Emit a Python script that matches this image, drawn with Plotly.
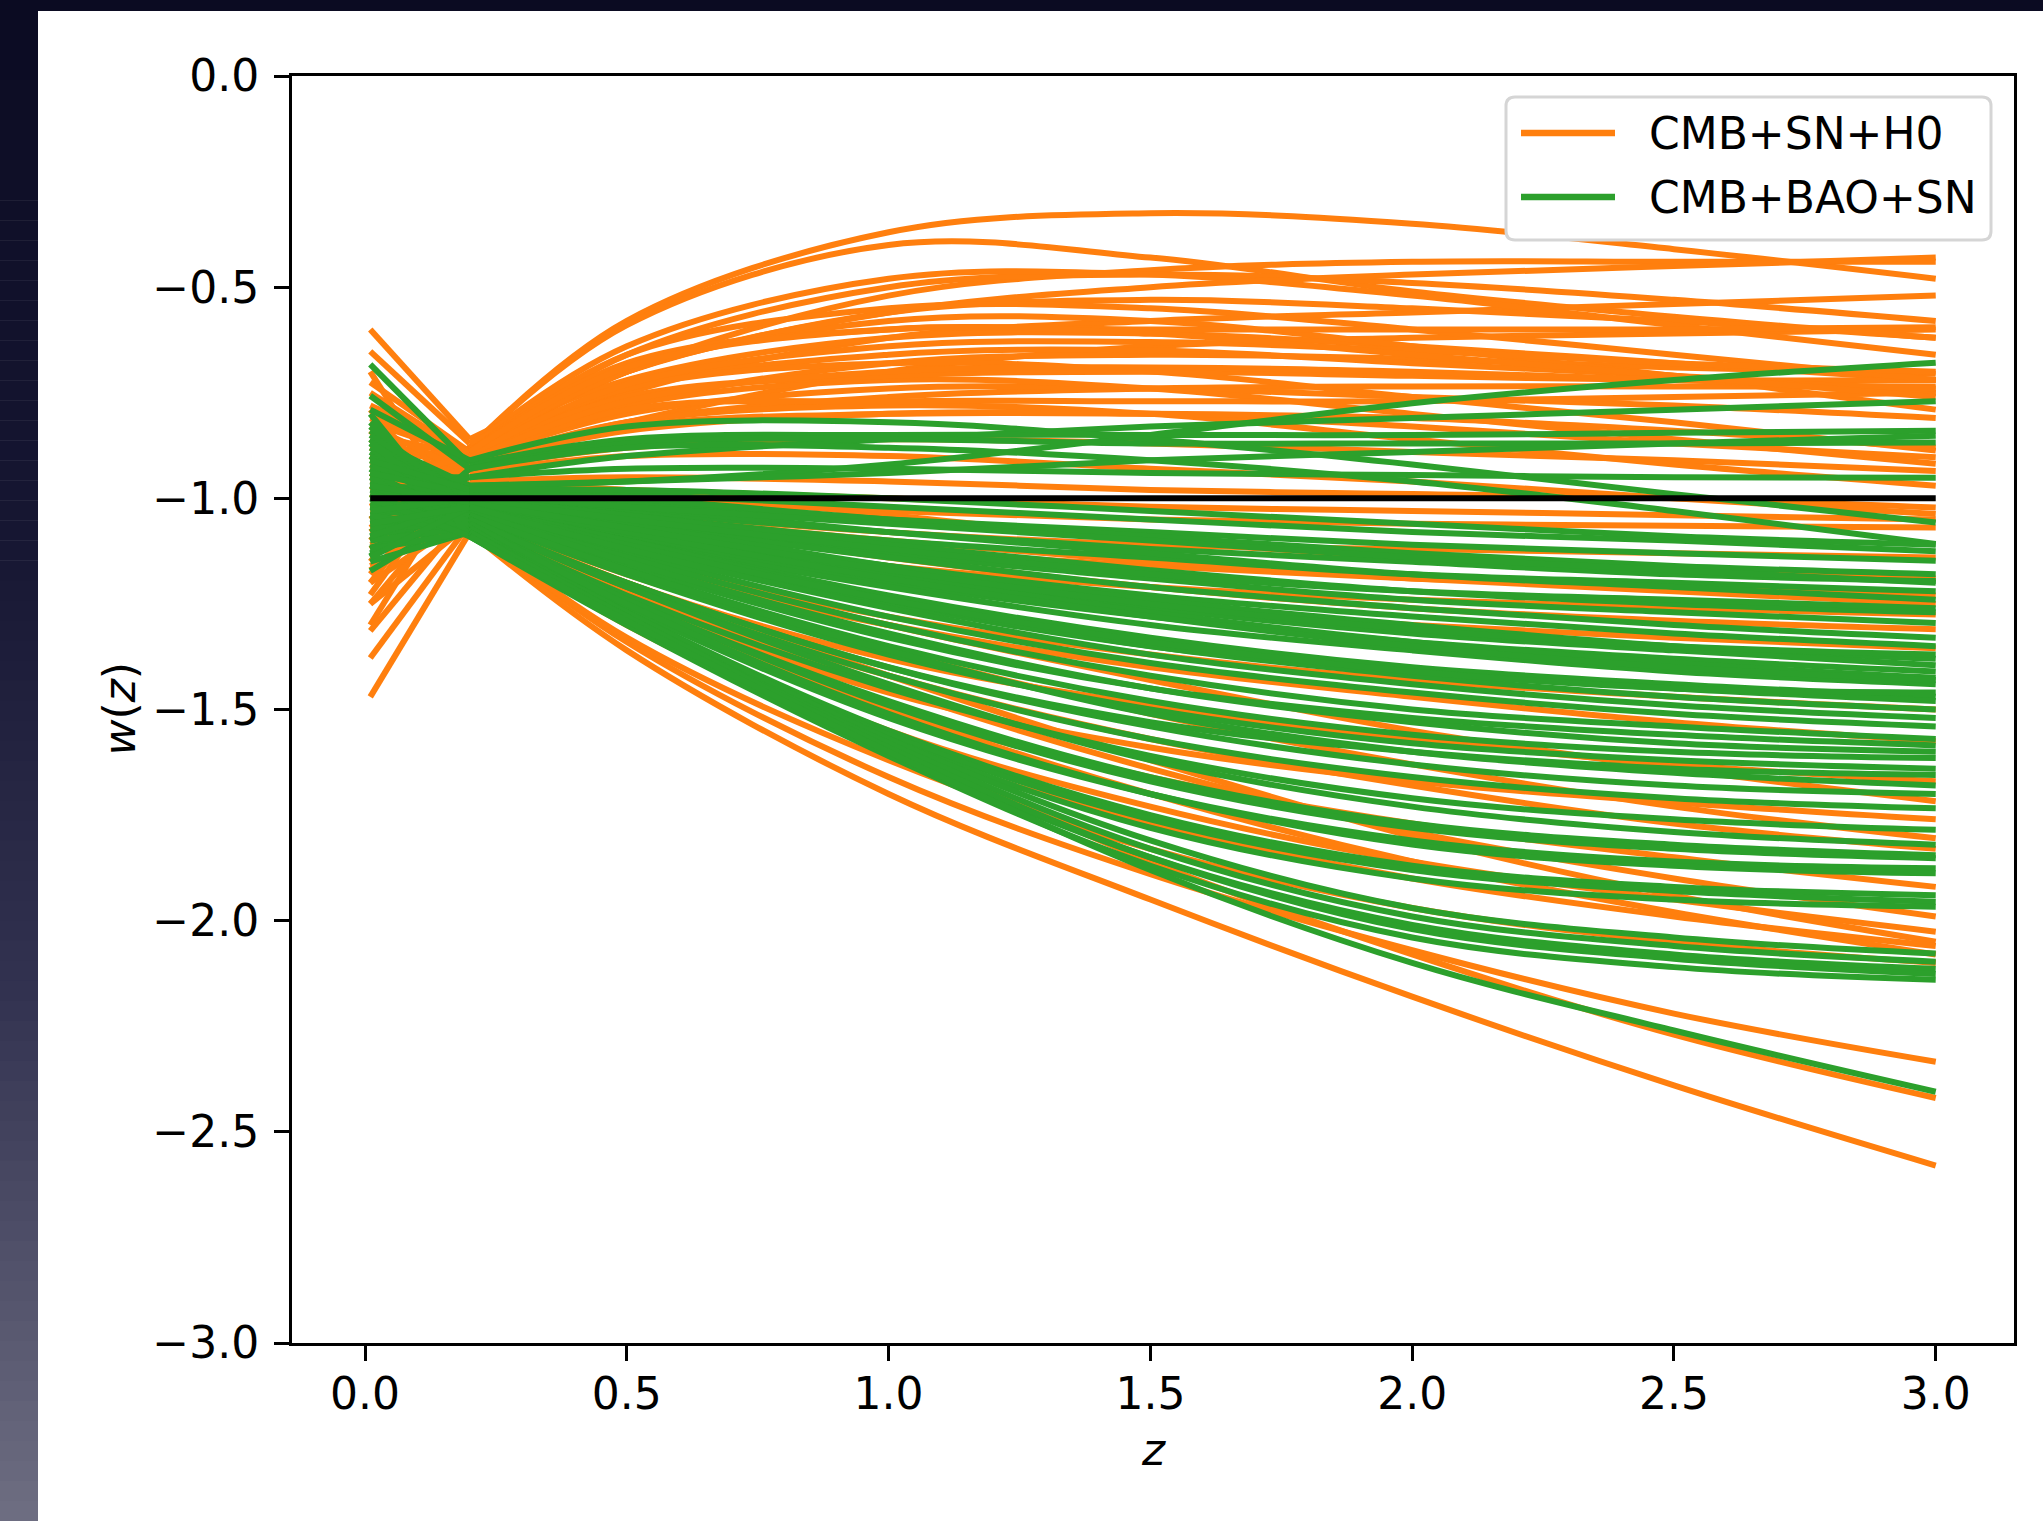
import plotly.graph_objects as go

W, H = 2043, 1521

# Redshift nodes: each curve starts at Z_START, runs straight to the first
# node and is then smoothly reconstructed through the remaining nodes.
Z_START = 0.01
Z_NODES = [0.2, 0.5, 1.0, 1.5, 2.0, 2.5, 3.0]

# CMB+SN+H0 posterior samples of w(z)
ORANGE_W0 = [
    -0.98, -1.05, -0.75, -1.20, -0.80, -0.88, -0.60, -1.10, -0.93, -0.652,
    -1.00, -0.85, -1.228, -0.95, -0.725, -1.07, -0.82, -0.97, -1.30, -0.90,
    -1.02, -0.78, -1.15, -0.87,
    -1.12, -0.83, -1.25, -0.92, -1.05, -0.88, -1.17, -0.95, -1.08, -0.86,
    -1.00, -0.90, -1.314, -0.94, -1.20, -0.84, -1.378, -1.03, -0.79, -1.11,
    -0.70, -1.16, -0.99, -1.25, -1.47, -1.06,
    -0.96, -1.08, -0.81, -1.18, -0.91, -1.02,
]
ORANGE_W = [
    [-0.88, -0.58, -0.37, -0.325, -0.35, -0.41, -0.48],
    [-0.88, -0.59, -0.40, -0.43, -0.51, -0.57, -0.62],
    [-0.90, -0.70, -0.52, -0.46, -0.44, -0.44, -0.44],
    [-0.90, -0.75, -0.62, -0.58, -0.56, -0.54, -0.52],
    [-0.89, -0.66, -0.50, -0.47, -0.49, -0.53, -0.58],
    [-0.92, -0.82, -0.70, -0.64, -0.62, -0.61, -0.60],
    [-0.86, -0.70, -0.56, -0.53, -0.55, -0.58, -0.62],
    [-0.88, -0.64, -0.48, -0.47, -0.52, -0.59, -0.66],
    [-0.91, -0.78, -0.68, -0.66, -0.67, -0.69, -0.705],
    [-0.87, -0.72, -0.62, -0.61, -0.64, -0.68, -0.72],
    [-0.92, -0.82, -0.76, -0.74, -0.735, -0.735, -0.735],
    [-0.90, -0.74, -0.66, -0.65, -0.68, -0.71, -0.75],
    [-0.90, -0.70, -0.58, -0.58, -0.64, -0.71, -0.79],
    [-0.91, -0.80, -0.74, -0.74, -0.76, -0.78, -0.81],
    [-0.89, -0.74, -0.68, -0.70, -0.76, -0.82, -0.887],
    [-0.92, -0.84, -0.80, -0.80, -0.83, -0.87, -0.903],
    [-0.90, -0.78, -0.72, -0.74, -0.80, -0.86, -0.918],
    [-0.93, -0.88, -0.86, -0.87, -0.89, -0.91, -0.935],
    [-0.92, -0.82, -0.78, -0.80, -0.86, -0.92, -0.97],
    [-0.89, -0.70, -0.56, -0.50, -0.47, -0.45, -0.43],
    [-0.90, -0.76, -0.71, -0.70, -0.71, -0.72, -0.72],
    [-0.89, -0.66, -0.55, -0.55, -0.60, -0.66, -0.72],
    [-0.89, -0.68, -0.60, -0.60, -0.60, -0.60, -0.595],
    [-0.91, -0.79, -0.77, -0.77, -0.77, -0.76, -0.75],
    [-0.96, -0.95, -0.96, -0.98, -0.99, -1.00, -1.022],
    [-0.94, -0.90, -0.90, -0.93, -0.96, -1.00, -1.037],
    [-0.97, -1.00, -1.03, -1.05, -1.06, -1.065, -1.069],
    [-0.98, -1.03, -1.08, -1.11, -1.12, -1.13, -1.14],
    [-0.97, -0.98, -1.04, -1.10, -1.14, -1.17, -1.19],
    [-0.99, -1.06, -1.12, -1.16, -1.19, -1.21, -1.23],
    [-1.00, -1.08, -1.16, -1.21, -1.24, -1.26, -1.275],
    [-0.98, -1.05, -1.14, -1.21, -1.26, -1.29, -1.31],
    [-1.00, -1.10, -1.20, -1.26, -1.30, -1.33, -1.355],
    [-1.02, -1.14, -1.28, -1.37, -1.43, -1.47, -1.50],
    [-1.03, -1.16, -1.30, -1.40, -1.47, -1.53, -1.575],
    [-1.04, -1.20, -1.38, -1.49, -1.57, -1.63, -1.67],
    [-1.03, -1.15, -1.30, -1.43, -1.55, -1.64, -1.717],
    [-1.05, -1.24, -1.46, -1.59, -1.67, -1.72, -1.76],
    [-1.04, -1.18, -1.36, -1.51, -1.63, -1.73, -1.805],
    [-1.05, -1.22, -1.42, -1.57, -1.68, -1.77, -1.83],
    [-1.06, -1.26, -1.50, -1.66, -1.77, -1.85, -1.92],
    [-1.05, -1.22, -1.45, -1.64, -1.79, -1.90, -1.99],
    [-1.06, -1.28, -1.55, -1.73, -1.86, -1.95, -2.026],
    [-1.05, -1.20, -1.42, -1.62, -1.80, -1.94, -2.05],
    [-1.07, -1.30, -1.58, -1.77, -1.90, -1.99, -2.06],
    [-1.06, -1.25, -1.50, -1.70, -1.86, -1.98, -2.08],
    [-1.07, -1.34, -1.66, -1.89, -2.07, -2.22, -2.334],
    [-1.06, -1.28, -1.58, -1.86, -2.08, -2.27, -2.42],
    [-1.08, -1.36, -1.70, -1.95, -2.18, -2.39, -2.58],
    [-1.07, -1.33, -1.62, -1.83, -1.97, -2.05, -2.10],
    [-0.90, -0.73, -0.64, -0.63, -0.65, -0.68, -0.70],
    [-0.91, -0.77, -0.70, -0.69, -0.70, -0.72, -0.74],
    [-0.89, -0.69, -0.60, -0.61, -0.66, -0.71, -0.76],
    [-0.92, -0.83, -0.80, -0.80, -0.81, -0.84, -0.88],
    [-0.97, -0.98, -1.00, -1.02, -1.03, -1.04, -1.05],
    [-0.99, -1.04, -1.10, -1.15, -1.19, -1.22, -1.25],
]

# CMB+BAO+SN posterior samples of w(z)
GREEN_W0 = [
    -0.86, -0.95, -0.683, -1.05, -0.757, -1.00, -0.79, -1.137,
    -0.90, -1.08, -0.97, -0.87, -1.02, -1.10, -0.93, -0.84, -1.04, -0.91,
    -1.12, -0.99, -0.88, -1.06, -0.96, -1.172, -0.92, -1.01,
    -0.89, -1.09, -0.98, -0.83, -1.13, -0.94, -1.05, -0.87, -1.117, -0.97,
    -0.82, -1.07, -0.95, -1.10, -0.90, -1.02, -0.86, -1.15, -0.99, -1.12,
    -0.93, -1.04, -0.80, -1.00,
    -0.94, -1.03, -0.85, -1.09, -0.97, -1.14, -0.91, -1.06,
]
GREEN_W = [
    [-0.97, -0.96, -0.92, -0.85, -0.775, -0.72, -0.679],
    [-0.95, -0.90, -0.86, -0.83, -0.81, -0.79, -0.77],
    [-0.92, -0.86, -0.85, -0.85, -0.85, -0.845, -0.84],
    [-0.97, -0.96, -0.94, -0.91, -0.89, -0.87, -0.852],
    [-0.93, -0.87, -0.86, -0.87, -0.87, -0.87, -0.868],
    [-0.95, -0.93, -0.93, -0.94, -0.945, -0.95, -0.951],
    [-0.91, -0.83, -0.82, -0.86, -0.92, -0.99, -1.057],
    [-0.93, -0.88, -0.88, -0.91, -0.96, -1.03, -1.108],
    [-0.98, -0.99, -1.02, -1.05, -1.08, -1.10, -1.125],
    [-0.99, -1.01, -1.05, -1.08, -1.11, -1.13, -1.148],
    [-0.98, -1.00, -1.05, -1.09, -1.13, -1.16, -1.18],
    [-0.99, -1.03, -1.08, -1.12, -1.15, -1.18, -1.196],
    [-1.00, -1.04, -1.10, -1.14, -1.18, -1.20, -1.22],
    [-0.99, -1.02, -1.08, -1.13, -1.18, -1.21, -1.24],
    [-1.00, -1.05, -1.13, -1.19, -1.24, -1.27, -1.295],
    [-1.00, -1.06, -1.14, -1.21, -1.26, -1.30, -1.33],
    [-1.01, -1.07, -1.16, -1.23, -1.28, -1.32, -1.35],
    [-1.00, -1.06, -1.16, -1.24, -1.30, -1.35, -1.38],
    [-1.01, -1.08, -1.18, -1.26, -1.32, -1.36, -1.395],
    [-1.02, -1.09, -1.20, -1.28, -1.34, -1.38, -1.41],
    [-1.01, -1.07, -1.18, -1.27, -1.34, -1.39, -1.425],
    [-1.02, -1.10, -1.21, -1.30, -1.36, -1.41, -1.44],
    [-1.02, -1.10, -1.23, -1.33, -1.40, -1.44, -1.47],
    [-1.03, -1.12, -1.25, -1.35, -1.41, -1.45, -1.48],
    [-1.02, -1.10, -1.24, -1.35, -1.42, -1.47, -1.50],
    [-1.03, -1.13, -1.28, -1.39, -1.46, -1.51, -1.54],
    [-1.03, -1.14, -1.30, -1.42, -1.50, -1.54, -1.57],
    [-1.04, -1.16, -1.33, -1.45, -1.52, -1.56, -1.585],
    [-1.03, -1.15, -1.32, -1.45, -1.53, -1.58, -1.60],
    [-1.04, -1.17, -1.35, -1.48, -1.56, -1.60, -1.615],
    [-1.04, -1.18, -1.37, -1.50, -1.58, -1.62, -1.64],
    [-1.05, -1.20, -1.40, -1.53, -1.60, -1.64, -1.655],
    [-1.04, -1.17, -1.36, -1.51, -1.60, -1.65, -1.68],
    [-1.05, -1.20, -1.40, -1.54, -1.63, -1.68, -1.70],
    [-1.05, -1.21, -1.42, -1.57, -1.66, -1.71, -1.734],
    [-1.06, -1.23, -1.45, -1.61, -1.71, -1.76, -1.785],
    [-1.05, -1.21, -1.44, -1.62, -1.73, -1.79, -1.82],
    [-1.06, -1.24, -1.48, -1.66, -1.77, -1.82, -1.845],
    [-1.06, -1.24, -1.49, -1.67, -1.78, -1.83, -1.852],
    [-1.07, -1.26, -1.52, -1.70, -1.81, -1.86, -1.876],
    [-1.06, -1.25, -1.51, -1.70, -1.82, -1.87, -1.888],
    [-1.07, -1.27, -1.55, -1.75, -1.87, -1.92, -1.94],
    [-1.07, -1.28, -1.56, -1.76, -1.88, -1.93, -1.955],
    [-1.08, -1.29, -1.57, -1.78, -1.90, -1.95, -1.967],
    [-1.08, -1.27, -1.57, -1.81, -1.97, -2.04, -2.078],
    [-1.08, -1.28, -1.58, -1.83, -1.99, -2.06, -2.097],
    [-1.09, -1.29, -1.60, -1.85, -2.01, -2.08, -2.114],
    [-1.08, -1.28, -1.59, -1.85, -2.02, -2.09, -2.126],
    [-1.09, -1.30, -1.61, -1.87, -2.04, -2.11, -2.14],
    [-1.09, -1.29, -1.60, -1.88, -2.10, -2.26, -2.405],
    [-0.99, -1.02, -1.06, -1.10, -1.14, -1.17, -1.20],
    [-1.00, -1.04, -1.11, -1.17, -1.22, -1.25, -1.27],
    [-1.00, -1.05, -1.12, -1.18, -1.22, -1.24, -1.26],
    [-1.01, -1.08, -1.19, -1.28, -1.35, -1.40, -1.43],
    [-1.01, -1.07, -1.17, -1.25, -1.31, -1.35, -1.37],
    [-1.02, -1.11, -1.24, -1.34, -1.41, -1.45, -1.46],
    [-0.98, -0.98, -1.00, -1.03, -1.06, -1.09, -1.11],
    [-1.02, -1.12, -1.26, -1.37, -1.44, -1.49, -1.52],
]

# Cosmological constant reference
LCDM_Z = [0.01, 3.0]
LCDM_W = [-1.0, -1.0]

X_TICKS = [0.0, 0.5, 1.0, 1.5, 2.0, 2.5, 3.0]
X_TICK_TEXT = ["0.0", "0.5", "1.0", "1.5", "2.0", "2.5", "3.0"]
Y_TICKS = [0.0, -0.5, -1.0, -1.5, -2.0, -2.5, -3.0]
Y_TICK_TEXT = ["0.0", "\u22120.5", "\u22121.0", "\u22121.5", "\u22122.0", "\u22122.5", "\u22123.0"]

SERIES = [
    ("CMB+SN+H0", "#ff7f0e", ORANGE_W0, ORANGE_W),
    ("CMB+BAO+SN", "#2ca02c", GREEN_W0, GREEN_W),
]

FONT = "DejaVu Sans"
FS = 44
LW = 6

# plot area in pixels
AX_L, AX_R, AX_T, AX_B = 292, 2014, 76, 1343


def px(x):
    return x / W


def py(y):
    return 1 - y / H


fig = go.Figure()

for name, color, w0, w in SERIES:
    xs, ys = [], []
    for a, row in zip(w0, w):
        xs += [Z_START, Z_NODES[0], None]
        ys += [a, row[0], None]
    fig.add_trace(go.Scatter(
        x=xs, y=ys, mode="lines", name=name,
        line=dict(color=color, width=LW),
        showlegend=False, hoverinfo="skip",
    ))
    for row in w:
        fig.add_trace(go.Scatter(
            x=Z_NODES, y=row, mode="lines", name=name,
            line=dict(color=color, width=LW, shape="spline", smoothing=1.0),
            showlegend=False, hoverinfo="skip",
        ))

fig.add_trace(go.Scatter(
    x=LCDM_Z, y=LCDM_W, mode="lines", line=dict(color="black", width=LW),
    showlegend=False, hoverinfo="skip",
))

shapes = []

# slide background: dark strip on top, vertical gradient strip on the left
shapes.append(dict(type="rect", xref="paper", yref="paper", x0=0, x1=1,
                   y0=py(11), y1=1, fillcolor="#0b0b22", line_width=0, layer="below"))
stops = [(0.0, (11, 11, 34)), (0.35, (22, 22, 50)), (0.65, (50, 50, 80)), (1.0, (110, 110, 130))]
n_bands = 76
for i in range(n_bands):
    t = (i + 0.5) / n_bands
    for (t0, c0), (t1, c1) in zip(stops[:-1], stops[1:]):
        if t0 <= t <= t1:
            f = (t - t0) / (t1 - t0)
            c = tuple(int(round(c0[k] + f * (c1[k] - c0[k]))) for k in range(3))
            break
    y0 = H * i / n_bands
    y1 = min(H, H * (i + 1) / n_bands + 0.5)
    shapes.append(dict(type="rect", xref="paper", yref="paper", x0=0, x1=px(38),
                       y0=py(y1), y1=py(y0), fillcolor="rgb(%d,%d,%d)" % c,
                       line_width=0, layer="below"))

# legend frame with rounded corners
lx0, lx1, ly0, ly1, r = 1506, 1991, 97, 240, 9
path = (
    f"M {px(lx0 + r)},{py(ly0)} L {px(lx1 - r)},{py(ly0)} "
    f"Q {px(lx1)},{py(ly0)} {px(lx1)},{py(ly0 + r)} "
    f"L {px(lx1)},{py(ly1 - r)} Q {px(lx1)},{py(ly1)} {px(lx1 - r)},{py(ly1)} "
    f"L {px(lx0 + r)},{py(ly1)} Q {px(lx0)},{py(ly1)} {px(lx0)},{py(ly1 - r)} "
    f"L {px(lx0)},{py(ly0 + r)} Q {px(lx0)},{py(ly0)} {px(lx0 + r)},{py(ly0)} Z"
)
shapes.append(dict(type="path", xref="paper", yref="paper", path=path,
                   fillcolor="white", line=dict(color="#d5d5d5", width=3), layer="above"))

annotations = []
for (name, color, _, _), ly in zip(SERIES, [133, 197]):
    shapes.append(dict(type="line", xref="paper", yref="paper",
                       x0=px(1521), x1=px(1615), y0=py(ly), y1=py(ly),
                       line=dict(color=color, width=6.5), layer="above"))
    annotations.append(dict(xref="paper", yref="paper", x=px(1647), y=py(ly),
                            xanchor="left", yanchor="middle", showarrow=False,
                            text=name, font=dict(family=FONT, size=FS, color="black")))

# axis titles
annotations.append(dict(xref="paper", yref="paper", x=px(119), y=py((AX_T + AX_B) / 2),
                        xanchor="center", yanchor="middle", textangle=-90, showarrow=False,
                        text="<i>w</i>(<i>z</i>)", font=dict(family=FONT, size=FS, color="black")))
annotations.append(dict(xref="paper", yref="paper", x=px((AX_L + AX_R) / 2), y=py(1449),
                        xanchor="center", yanchor="middle", showarrow=False,
                        text="<i>z</i>", font=dict(family=FONT, size=FS, color="black")))

axis_common = dict(
    showgrid=False, zeroline=False, showline=True, mirror=True, automargin=False,
    linecolor="black", linewidth=3, ticks="outside", ticklen=15, tickwidth=3,
    tickcolor="black", tickfont=dict(family=FONT, size=FS, color="black"),
)

fig.update_layout(
    width=W, height=H,
    margin=dict(l=0, r=0, t=0, b=0, pad=0, autoexpand=False),
    paper_bgcolor="white", plot_bgcolor="white",
    showlegend=False,
    shapes=shapes, annotations=annotations,
    xaxis=dict(domain=[px(AX_L), px(AX_R)], range=[-0.1395, 3.1495],
               tickvals=X_TICKS, ticktext=X_TICK_TEXT, ticklabelstandoff=-5, **axis_common),
    yaxis=dict(domain=[py(AX_B), py(AX_T)], range=[-3.0, 0.0],
               tickvals=Y_TICKS, ticktext=Y_TICK_TEXT, ticklabelstandoff=6, **axis_common),
)

fig.write_html("out.html")
